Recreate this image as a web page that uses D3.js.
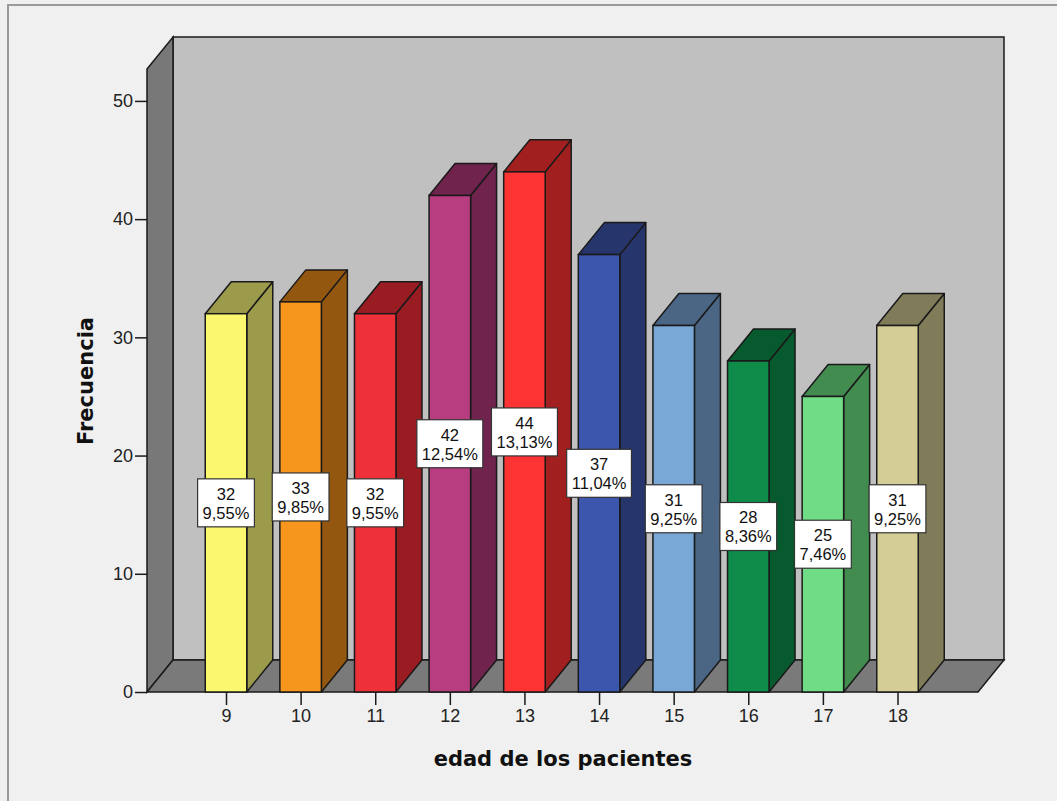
<!DOCTYPE html>
<html>
<head>
<meta charset="utf-8">
<script src="https://cdn.jsdelivr.net/npm/d3@7/dist/d3.min.js"></script>
<style>
  html, body { margin: 0; padding: 0; background: #f0f0f0; }
  svg { display: block; }
</style>
</head>
<body>
<script>
// Patients by age: frequency and share of total
const ages = [9, 10, 11, 12, 13, 14, 15, 16, 17, 18];
const counts = [32, 33, 32, 42, 44, 37, 31, 28, 25, 31];
const percents = ["9,55%", "9,85%", "9,55%", "12,54%", "13,13%", "11,04%", "9,25%", "8,36%", "7,46%", "9,25%"];
const frontColors = ["#fbf870", "#f7961d", "#ee3039", "#b83c80", "#fe3333", "#3d56ad", "#7aa8d6", "#0f8c4a", "#70dc86", "#d4ce96"];
const shadeColors = ["#9c9a4b", "#94570f", "#981c22", "#70244d", "#a11f1f", "#26356b", "#4a6684", "#075a2e", "#428c50", "#807c5a"];
const yTicks = [0, 10, 20, 30, 40, 50];

const W = 1057, H = 801;
const svg = d3.select("body").append("svg").attr("width", W).attr("height", H);

// outer frame
svg.append("rect").attr("x", 8).attr("y", 5).attr("width", W).attr("height", H)
  .attr("fill", "#f0f0f0").attr("stroke", "#9a9a9a").attr("stroke-width", 2);

// 3D box geometry
const floorLeft = 147, floorRight = 978;
const dx = 26, dy = -32;
const yMax = 52.7;
const y = d3.scaleLinear().domain([0, yMax]).range([692, 69]);
const x = d3.scalePoint().domain(ages).range([226, 897.5]);
const barW = 41.5;

const edge = "#1a1a1a";
const poly = pts => "M" + pts.map(p => p.join(",")).join("L") + "Z";

const y0 = y(0), yTop = y(yMax);

// back wall
svg.append("path")
  .attr("d", poly([[floorLeft + dx, yTop + dy], [floorRight + dx, yTop + dy], [floorRight + dx, y0 + dy], [floorLeft + dx, y0 + dy]]))
  .attr("fill", "#c0c0c0").attr("stroke", edge).attr("stroke-width", 1.5);
// left wall
svg.append("path")
  .attr("d", poly([[floorLeft, yTop], [floorLeft + dx, yTop + dy], [floorLeft + dx, y0 + dy], [floorLeft, y0]]))
  .attr("fill", "#787878").attr("stroke", edge).attr("stroke-width", 1.5);
// floor
svg.append("path")
  .attr("d", poly([[floorLeft, y0], [floorLeft + dx, y0 + dy], [floorRight + dx, y0 + dy], [floorRight, y0]]))
  .attr("fill", "#7a7a7a").attr("stroke", edge).attr("stroke-width", 1.5);

// bars
const data = ages.map((a, i) => ({ age: a, count: counts[i], pct: percents[i], front: frontColors[i], shade: shadeColors[i] }));
const bars = svg.append("g").selectAll("g").data(data).join("g");
bars.each(function (d) {
  const g = d3.select(this);
  const x0 = x(d.age) - barW / 2, x1 = x(d.age) + barW / 2;
  const yt = y(d.count);
  // side
  g.append("path")
    .attr("d", poly([[x1, yt], [x1 + dx, yt + dy], [x1 + dx, y0 + dy], [x1, y0]]))
    .attr("fill", d.shade).attr("stroke", edge).attr("stroke-width", 1.5).attr("stroke-linejoin", "round");
  // top
  g.append("path")
    .attr("d", poly([[x0, yt], [x0 + dx, yt + dy], [x1 + dx, yt + dy], [x1, yt]]))
    .attr("fill", d.shade).attr("stroke", edge).attr("stroke-width", 1.5).attr("stroke-linejoin", "round");
  // front
  g.append("rect")
    .attr("x", x0).attr("y", yt).attr("width", barW).attr("height", y0 - yt)
    .attr("fill", d.front).attr("stroke", edge).attr("stroke-width", 1.5);
});

// value labels: count over percentage, boxed, at mid-height of each bar
const labelFont = "'Liberation Sans', Arial, sans-serif";
const labels = svg.append("g").selectAll("g").data(data).join("g")
  .attr("transform", d => `translate(${x(d.age)},${y(d.count / 2)})`);
labels.each(function (d) {
  const g = d3.select(this);
  const box = g.append("rect").attr("fill", "#ffffff").attr("stroke", "#333").attr("stroke-width", 1.2);
  const t = g.append("text").attr("text-anchor", "middle").attr("font-family", labelFont)
    .attr("font-size", 16.5).attr("fill", "#111");
  const s1 = t.append("tspan").attr("x", 0).attr("y", -3).text(d.count);
  const s2 = t.append("tspan").attr("x", 0).attr("y", 16).text(d.pct);
  const w = Math.max(s1.node().getComputedTextLength(), s2.node().getComputedTextLength()) + 10;
  box.attr("x", -w / 2).attr("y", -24).attr("width", w).attr("height", 48);
});

// y axis
const yAxis = svg.append("g").attr("transform", `translate(${floorLeft},0)`)
  .call(d3.axisLeft(y).tickValues(yTicks).tickSize(12).tickPadding(2));
yAxis.select(".domain").remove();
yAxis.selectAll("line").attr("stroke", edge).attr("stroke-width", 1.5);
yAxis.selectAll("text").attr("font-family", labelFont).attr("font-size", 18).attr("fill", "#222");

// x axis
const xAxis = svg.append("g").attr("transform", `translate(0,${y0})`)
  .call(d3.axisBottom(x).tickSize(13).tickPadding(4));
xAxis.select(".domain").remove();
xAxis.selectAll("line").attr("stroke", edge).attr("stroke-width", 1.5);
xAxis.selectAll("text").attr("font-family", labelFont).attr("font-size", 18).attr("fill", "#222");

// axis titles
const titleFont = "'DejaVu Sans', Verdana, sans-serif";
svg.append("text").attr("x", 563).attr("y", 766).attr("text-anchor", "middle")
  .attr("font-family", titleFont).attr("font-weight", "bold").attr("font-size", 21).attr("fill", "#111")
  .text("edad de los pacientes");
svg.append("text").attr("transform", "translate(93,381) rotate(-90)").attr("text-anchor", "middle")
  .attr("font-family", titleFont).attr("font-weight", "bold").attr("font-size", 21).attr("fill", "#111")
  .text("Frecuencia");
</script>
</body>
</html>
